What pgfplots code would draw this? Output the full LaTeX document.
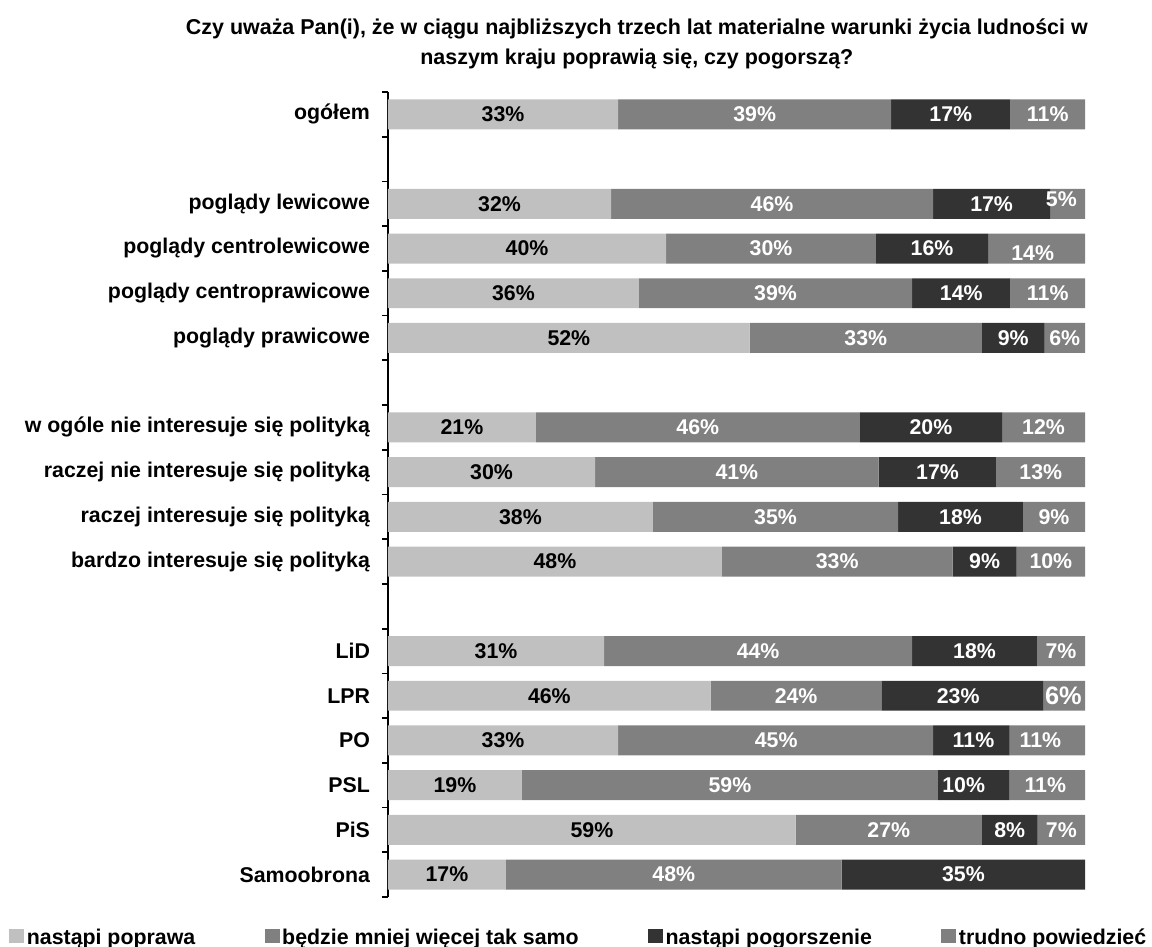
\documentclass[border=0pt]{standalone}
\usepackage{pgfplots}
\pgfplotsset{compat=1.18}
\usepackage{pgfplotstable}
\usepackage{fontspec}
\setmainfont{Liberation Sans}

\definecolor{popr}{HTML}{C0C0C0}
\definecolor{same}{HTML}{808080}
\definecolor{pogor}{HTML}{333333}
\definecolor{trud}{HTML}{808080}

% segment widths, row 0 = top (ogolem)
\pgfplotstableread{
y x
0 33.0
2 32.0
3 39.9
4 36.0
5 51.9
7 21.2
8 29.7
9 38.0
10 47.9
12 31.0
13 46.3
14 33.0
15 19.2
16 58.5
17 16.9
}\poprawa
\pgfplotstableread{
y x
0 39.2
2 46.2
3 30.1
4 39.2
5 33.3
7 46.5
8 40.7
9 35.2
10 33.1
12 44.2
13 24.5
14 45.2
15 59.7
16 26.7
17 48.2
}\tak
\pgfplotstableread{
y x
0 17.1
2 16.8
3 16.1
4 14.1
5 9.0
7 20.4
8 16.9
9 17.9
10 9.2
12 17.9
13 23.2
14 11.0
15 10.2
16 8.0
17 34.9
}\pogorszenie
\pgfplotstableread{
y x
0 10.7
2 5.0
3 13.9
4 10.7
5 5.8
7 11.9
8 12.7
9 8.9
10 9.8
12 6.9
13 6.0
14 10.8
15 10.9
16 6.8
}\trudno

% label positions (segment centres) and printed values
\pgfplotstableread{
x y m
16.5 0 33
16.0 2 32
19.95 3 40
18.0 4 36
25.95 5 52
10.6 7 21
14.85 8 30
19.0 9 38
23.95 10 48
15.5 12 31
23.15 13 46
16.5 14 33
9.6 15 19
29.25 16 59
8.45 17 17
}\labdark
\pgfplotstableread{
x y m
52.6 0 39
80.75 0 17
94.65 0 11
55.1 2 46
86.6 2 17
96.6 1.9 5
54.95 3 30
78.05 3 16
92.5 3.1 14
55.6 4 39
82.25 4 14
94.65 4 11
68.55 5 33
89.7 5 9
97.1 5 6
44.45 7 46
77.9 7 20
94.05 7 12
50.05 8 41
78.85 8 17
93.65 8 13
55.6 9 35
82.15 9 18
95.55 9 9
64.45 10 33
85.6 10 9
95.1 10 10
53.1 12 44
84.15 12 18
96.55 12 7
58.55 13 24
81.8 13 23
55.7 14 45
84.0 14 11
93.6 14 11
49.05 15 59
82.6 15 10
94.3 15 11
71.85 16 27
89.2 16 8
96.6 16 7
41.0 17 48
82.55 17 35
}\lablight
\pgfplotstableread{
x y m
96.9 13 6
}\labbig

\begin{document}
\bfseries\fontsize{16pt}{19pt}\selectfont
\begin{tikzpicture}
\begin{axis}[
	name=main,
	scale only axis,
	width=522.75pt, height=603.75pt,
	xbar stacked, bar width=0.67,
	xmin=0, xmax=100, ymin=-0.5, ymax=17.5,
	enlargelimits=false,
	y dir=reverse,
	axis x line=none, axis y line*=left,
	y axis line style={line width=1.3pt},
	xtick=\empty,
	ytick={0,2,3,4,5,7,8,9,10,12,13,14,15,16,17},
	yticklabels={ogółem,poglądy lewicowe,poglądy centrolewicowe,poglądy centroprawicowe,poglądy prawicowe,w ogóle nie interesuje się polityką,raczej nie interesuje się polityką,raczej interesuje się polityką,bardzo interesuje się polityką,LiD,LPR,PO,PSL,PiS,Samoobrona},
	minor ytick={-0.5,0.5,...,17.5},
	major tick length=0pt, minor tick length=4.5pt, tick align=outside,
	minor tick style={black, line width=1.3pt},
	yticklabel style={xshift=-8pt},
	title={Czy uważa Pan(i), że w ciągu najbliższych trzech lat materialne warunki życia ludności w\\naszym kraju poprawią się, czy pogorszą?},
	title style={at={(0.357,1)}, anchor=south, yshift=11pt, inner sep=0pt, align=center, font=\bfseries\fontsize{16.1pt}{22.5pt}\selectfont},
	every axis plot post/.append style={legend image code/.code={\fill[##1] (0pt,-4.1pt) rectangle (11.25pt,6.4pt);}},
	legend style={draw=none, at={(-0.5438,-0.0508)}, anchor=west, legend columns=4, inner sep=0pt, nodes={inner sep=2pt}, font=\bfseries\fontsize{16pt}{19pt}\selectfont},
	legend cell align=left,
	/tikz/every even column/.append style={column sep=50pt},
]
\addplot[fill=popr, draw=none] table[x=x, y=y] {\poprawa};
\addplot[fill=same, draw=none] table[x=x, y=y] {\tak};
\addplot[fill=pogor, draw=none] table[x=x, y=y] {\pogorszenie};
\addplot[fill=trud, draw=none] table[x=x, y=y] {\trudno};
\legend{nastąpi poprawa, będzie mniej więcej tak samo, nastąpi pogorszenie, trudno powiedzieć}
\end{axis}
\begin{axis}[
	scale only axis,
	width=522.75pt, height=603.75pt,
	xmin=0, xmax=100, ymin=-0.5, ymax=17.5,
	enlargelimits=false,
	y dir=reverse,
	hide axis,
	point meta=explicit,
	/pgf/number format/assume math mode=true,
	nodes near coords={\pgfmathprintnumber{\pgfplotspointmeta}\%},
	every node near coord/.append style={anchor=center, inner sep=0pt, font=\bfseries\fontsize{16pt}{19pt}\selectfont},
]
\addplot[draw=none, mark=none, every node near coord/.append style={text=black}] table[x=x, y=y, meta=m] {\labdark};
\addplot[draw=none, mark=none, every node near coord/.append style={text=white}] table[x=x, y=y, meta=m] {\lablight};
\addplot[draw=none, mark=none, every node near coord/.append style={text=white, font=\bfseries\fontsize{19pt}{22pt}\selectfont}] table[x=x, y=y, meta=m] {\labbig};
\end{axis}
\pgfresetboundingbox
\path[use as bounding box] ([xshift=-291pt,yshift=-37.5pt]main.south west) rectangle ([xshift=50.25pt,yshift=69pt]main.north east);
\end{tikzpicture}
\end{document}
